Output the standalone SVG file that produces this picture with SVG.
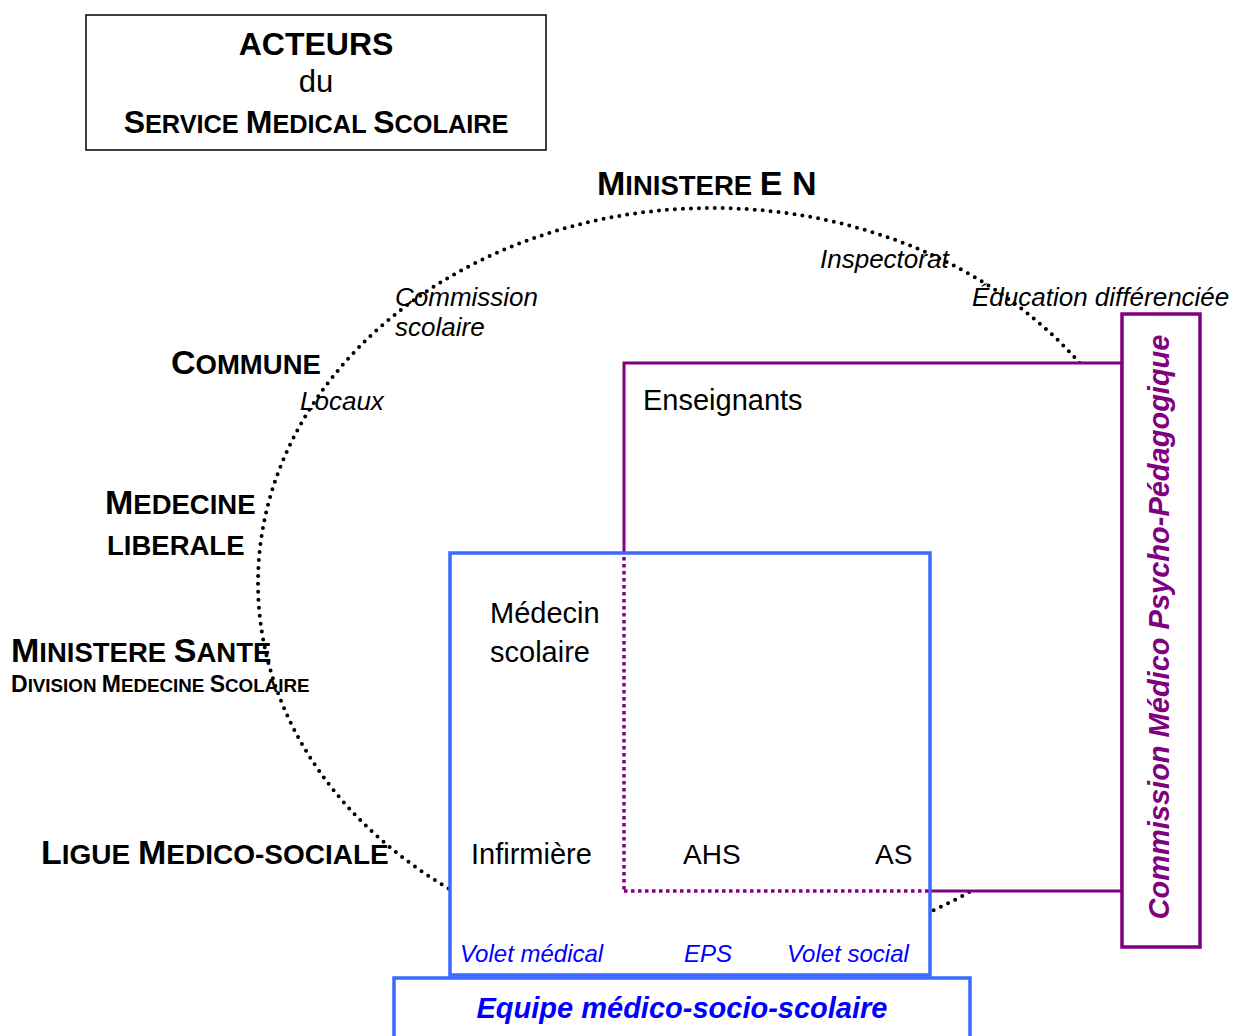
<svg xmlns="http://www.w3.org/2000/svg" width="1235" height="1036" viewBox="0 0 1235 1036">
<style>
text{font-family:"Liberation Sans",Arial,sans-serif;fill:#000}
.h{font-weight:bold;font-size:27.5px}
.hb{font-size:34px}
.it{font-style:italic;font-size:26px}
.n{font-size:29px}
.bl{font-style:italic;font-size:24px;fill:#0000ff}
.pur{fill:#fff;stroke:#800080;stroke-width:3}
.blue{fill:#fff;stroke:#3a6bff;stroke-width:3.5}
.dotp{fill:none;stroke:#800080;stroke-width:3.5;stroke-dasharray:3.5 3.5}
</style>
<rect width="1235" height="1036" fill="#fff"/>
<g id="titre">
<rect x="86" y="15" width="460" height="135" fill="#fff" stroke="#000" stroke-width="1.5"/>
<text x="316" y="55" text-anchor="middle" font-weight="bold" font-size="32">ACTEURS</text>
<text x="316" y="92" text-anchor="middle" font-size="31">du</text>
<text x="316" y="133" text-anchor="middle" class="h" style="font-size:25.3px"><tspan font-size="32">S</tspan>ERVICE <tspan font-size="32">M</tspan>EDICAL <tspan font-size="32">S</tspan>COLAIRE</text>
</g>
<g id="cercle">
<ellipse cx="712" cy="583" rx="454" ry="375" fill="none" stroke="#000" stroke-width="4" stroke-linecap="round" stroke-dasharray="0 8"/>
</g>
<g id="acteurs-externes">
<text x="597" y="195" class="h"><tspan class="hb">M</tspan>INISTERE <tspan class="hb">E N</tspan></text>
<text x="171" y="374" class="h"><tspan class="hb">C</tspan>OMMUNE</text>
<text x="105" y="514" class="h"><tspan class="hb">M</tspan>EDECINE</text>
<text x="107" y="555" class="h">LIBERALE</text>
<text x="11" y="662" class="h"><tspan class="hb">M</tspan>INISTERE <tspan class="hb">S</tspan>ANTE</text>
<text x="11" y="692" class="h" style="font-size:18.8px"><tspan font-size="23">D</tspan>IVISION <tspan font-size="23">M</tspan>EDECINE <tspan font-size="23">S</tspan>COLAIRE</text>
<text x="41" y="864" class="h" style="font-size:28px"><tspan class="hb">L</tspan>IGUE <tspan class="hb">M</tspan>EDICO-SOCIALE</text>
<text x="395" y="306" class="it">Commission</text>
<text x="395" y="336" class="it">scolaire</text>
<text x="300" y="410" class="it">Locaux</text>
<text x="820" y="268" class="it">Inspectorat</text>
<text x="972" y="306" class="it">Éducation différenciée</text>
</g>
<g id="enseignants">
<rect x="624" y="363" width="498" height="528" class="pur"/>
<text x="643" y="410" class="n">Enseignants</text>
</g>
<g id="equipe-sante">
<rect x="450" y="553" width="480" height="422" class="blue"/>
<text x="490" y="623" class="n">Médecin</text>
<text x="490" y="662" class="n">scolaire</text>
<text x="471" y="864" class="n">Infirmière</text>
<text x="683" y="864" class="n" style="font-size:28px">AHS</text>
<text x="875" y="864" class="n" style="font-size:28px">AS</text>
<text x="460" y="962" class="bl">Volet médical</text>
<text x="684" y="962" class="bl">EPS</text>
<text x="787" y="962" class="bl">Volet social</text>
</g>
<g id="connectors">
<line x1="624" y1="557" x2="624" y2="891" class="dotp"/>
<line x1="624" y1="891" x2="929" y2="891" class="dotp"/>
</g>
<g id="equipe">
<rect x="394" y="978" width="576" height="70" class="blue"/>
<text x="682" y="1018" text-anchor="middle" style="font-weight:bold;font-style:italic;font-size:29px;fill:#0000ff">Equipe médico-socio-scolaire</text>
</g>
<g id="cmpp">
<rect x="1122" y="314" width="78" height="633" fill="#fff" stroke="#800080" stroke-width="3.5"/>
<text transform="translate(1169 627) rotate(-90)" text-anchor="middle" style="font-weight:bold;font-style:italic;font-size:29px;fill:#800080">Commission Médico Psycho-Pédagogique</text>
</g>
</svg>
